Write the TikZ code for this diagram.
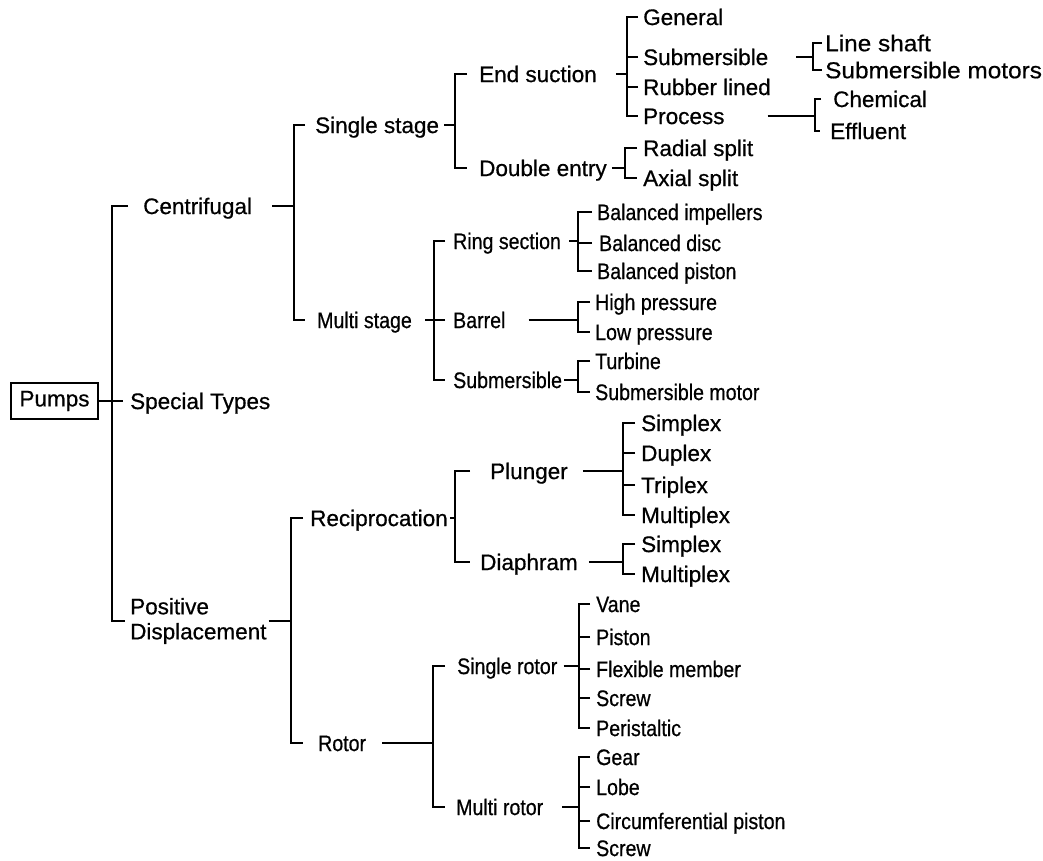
\documentclass[tikz,border=0pt]{standalone}
\usepackage{fontspec}
\setmainfont{Liberation Sans}[FakeBold=0.6]
\newfontfamily\regFont{Liberation Sans}[FakeBold=0.6]
\newfontfamily\narrowfont{Liberation Sans}[FakeStretch=0.87,FakeBold=0.6]
\newfontfamily\wideFont{Liberation Sans}[FakeStretch=1.06,FakeBold=0.6]
\begin{document}
\begin{tikzpicture}[x=1pt,y=-1pt,
  big/.style={anchor=west, inner sep=0pt, font=\regFont\fontsize{22.5}{25}\selectfont, text height=16.1pt, text depth=0pt},
  sml/.style={anchor=west, inner sep=0pt, font=\narrowfont\fontsize{22.5}{25}\selectfont, text height=16.1pt, text depth=0pt},
  lrg/.style={anchor=west, inner sep=0pt, font=\wideFont\fontsize{23}{26}\selectfont, text height=16.5pt, text depth=0pt},
  conn/.style={line width=2.9pt},
  rootbox/.style={draw, line width=2.4pt, minimum width=87pt, minimum height=36pt, inner sep=0pt, font=\regFont\fontsize{22.5}{25}\selectfont}
]
\useasboundingbox (0,0) rectangle (1043,861);

% ---- nodes
\node[rootbox] (pumps) at (54.5,401) {Pumps};
\node[big] (cen) at (143,206) {Centrifugal};
\node[big] (spt) at (130,401) {Special Types};
\node[anchor=west, inner sep=0pt, align=left, font=\regFont\fontsize{22.5}{25}\selectfont] (pd) at (130,621) {Positive\\Displacement};

\node[big] (ss) at (315,125) {Single stage};
\node[sml] (ms) at (317,320) {Multi stage};

\node[big] (es) at (479,74) {End suction};
\node[big] (de) at (479,168) {Double entry};

\node[big] (gen) at (643,17) {General};
\node[big] (subm) at (643,57) {Submersible};
\node[big] (rub) at (643,87) {Rubber lined};
\node[big] (proc) at (643,116) {Process};

\node[lrg] (ls) at (825,43) {Line shaft};
\node[lrg] (sm) at (825,70) {Submersible motors};
\node[big] (chem) at (833,99) {Chemical};
\node[big] (eff) at (830,131) {Effluent};

\node[big] (rad) at (643,148) {Radial split};
\node[big] (ax) at (643,178) {Axial split};

\node[sml] (rs) at (453,241) {Ring section};
\node[sml] (bar) at (453,320) {Barrel};
\node[sml] (sub2) at (453,380) {Submersible};

\node[sml] (bi) at (597,212) {Balanced impellers};
\node[sml] (bd) at (599,243) {Balanced disc};
\node[sml] (bp) at (597,271) {Balanced piston};
\node[sml] (hp) at (595,302) {High pressure};
\node[sml] (lp) at (595,332) {Low pressure};
\node[sml] (tur) at (595,361) {Turbine};
\node[sml] (smo) at (595,392) {Submersible motor};

\node[big] (recip) at (310,518) {Reciprocation};
\node[sml] (rot) at (318,743) {Rotor};

\node[big] (plu) at (490,471) {Plunger};
\node[big] (dia) at (480,562) {Diaphram};

\node[big] (psx) at (641,423) {Simplex};
\node[big] (pdx) at (641,453) {Duplex};
\node[big] (ptx) at (641,485) {Triplex};
\node[big] (pmx) at (641,515) {Multiplex};
\node[big] (dsx) at (641,544) {Simplex};
\node[big] (dmx) at (641,574) {Multiplex};

\node[sml] (sr) at (457,666) {Single rotor};
\node[sml] (mr) at (456,807) {Multi rotor};

\node[sml] (van) at (596,604) {Vane};
\node[sml] (pis) at (596,637) {Piston};
\node[sml] (flex) at (596,669) {Flexible member};
\node[sml] (scr) at (596,698) {Screw};
\node[sml] (per) at (596,728) {Peristaltic};
\node[sml] (gear) at (596,757) {Gear};
\node[sml] (lobe) at (596,787) {Lobe};
\node[sml] (circ) at (596,821) {Circumferential piston};
\node[sml] (scr2) at (596,848) {Screw};

% ---- spines
\coordinate (s1) at (112,0);
\coordinate (s2) at (294,0);
\coordinate (s3) at (455,0);
\coordinate (s4) at (627,0);
\coordinate (s5) at (813,0);
\coordinate (s6) at (815,0);
\coordinate (s7) at (625,0);
\coordinate (s8) at (434,0);
\coordinate (s9) at (578,0);
\coordinate (s10) at (291,0);
\coordinate (s11) at (455,0);
\coordinate (s12) at (623,0);
\coordinate (s13) at (433,0);
\coordinate (s14) at (579,0);

% level 1
\draw[conn] ([xshift=-15]cen.west) -- (cen.west -| s1) -- (pd.west -| s1) -- ([xshift=-5]pd.west);
\draw[conn] (pumps.east) -- ([xshift=-7]spt.west);

% centrifugal
\draw[conn] ([xshift=-10]ss.west) -- (ss.west -| s2) -- (ms.west -| s2) -- ([xshift=-12]ms.west);
\draw[conn] ([xshift=20]cen.east) -- (cen.east -| s2);

% single stage
\draw[conn] ([xshift=-12]es.west) -- (es.west -| s3) -- (de.west -| s3) -- ([xshift=-12]de.west);
\draw[conn] ([xshift=5]ss.east) -- (ss.east -| s3);

% end suction
\draw[conn] ([xshift=-5]gen.west) -- (gen.west -| s4) -- (proc.west -| s4) -- ([xshift=-5]proc.west);
\draw[conn] ([xshift=-5]subm.west) -- (subm.west -| s4);
\draw[conn] ([xshift=-5]rub.west) -- (rub.west -| s4);
\draw[conn] ([xshift=19]es.east) -- (es.east -| s4);

% submersible
\draw[conn] ([xshift=-3]ls.west) -- (ls.west -| s5) -- (sm.west -| s5) -- ([xshift=-3]sm.west);
\draw[conn] ([xshift=28]subm.east) -- (subm.east -| s5);

% process
\draw[conn] ([xshift=-12]chem.west) -- (chem.west -| s6) -- (eff.west -| s6) -- ([xshift=-10]eff.west);
\draw[conn] ([xshift=43]proc.east) -- (proc.east -| s6);

% double entry
\draw[conn] ([xshift=-6]rad.west) -- (rad.west -| s7) -- (ax.west -| s7) -- ([xshift=-6]ax.west);
\draw[conn] ([xshift=5]de.east) -- (de.east -| s7);

% multi stage
\draw[conn] ([xshift=-8]rs.west) -- (rs.west -| s8) -- (sub2.west -| s8) -- ([xshift=-8]sub2.west);
\draw[conn] ([xshift=-8]bar.west) -- (bar.west -| s8);
\draw[conn] ([xshift=13]ms.east) -- (ms.east -| s8);

% ring section
\draw[conn] ([xshift=-5]bi.west) -- (bi.west -| s9) -- (bp.west -| s9) -- ([xshift=-5]bp.west);
\draw[conn] ([xshift=-7]bd.west) -- (bd.west -| s9);
\draw[conn] ([xshift=8]rs.east) -- (rs.east -| s9);

% barrel
\draw[conn] ([xshift=-5]hp.west) -- (hp.west -| s9) -- (lp.west -| s9) -- ([xshift=-5]lp.west);
\draw[conn] ([xshift=23]bar.east) -- (bar.east -| s9);

% submersible (multi stage)
\draw[conn] ([xshift=-5]tur.west) -- (tur.west -| s9) -- (smo.west -| s9) -- ([xshift=-5]smo.west);
\draw[conn] ([xshift=2]sub2.east) -- (sub2.east -| s9);

% positive displacement
\draw[conn] ([xshift=-7]recip.west) -- (recip.west -| s10) -- (rot.west -| s10) -- ([xshift=-15]rot.west);
\draw[conn] ([xshift=2]pd.east) -- (pd.east -| s10);

% reciprocation
\draw[conn] ([xshift=-20]plu.west) -- (plu.west -| s11) -- (dia.west -| s11) -- ([xshift=-10]dia.west);
\draw[conn] ([xshift=2]recip.east) -- (recip.east -| s11);

% plunger
\draw[conn] ([xshift=-6]psx.west) -- (psx.west -| s12) -- (pmx.west -| s12) -- ([xshift=-6]pmx.west);
\draw[conn] ([xshift=-6]pdx.west) -- (pdx.west -| s12);
\draw[conn] ([xshift=-6]ptx.west) -- (ptx.west -| s12);
\draw[conn] ([xshift=15]plu.east) -- (plu.east -| s12);

% diaphram
\draw[conn] ([xshift=-6]dsx.west) -- (dsx.west -| s12) -- (dmx.west -| s12) -- ([xshift=-6]dmx.west);
\draw[conn] ([xshift=11]dia.east) -- (dia.east -| s12);

% rotor
\draw[conn] ([xshift=-12]sr.west) -- (sr.west -| s13) -- (mr.west -| s13) -- ([xshift=-11]mr.west);
\draw[conn] ([xshift=16]rot.east) -- (rot.east -| s13);

% single rotor
\draw[conn] ([xshift=-6]van.west) -- (van.west -| s14) -- (per.west -| s14) -- ([xshift=-6]per.west);
\draw[conn] ([xshift=-6]pis.west) -- (pis.west -| s14);
\draw[conn] ([xshift=-6]flex.west) -- (flex.west -| s14);
\draw[conn] ([xshift=-6]scr.west) -- (scr.west -| s14);
\draw[conn] ([xshift=6]sr.east) -- (sr.east -| s14);

% multi rotor
\draw[conn] ([xshift=-6]gear.west) -- (gear.west -| s14) -- (scr2.west -| s14) -- ([xshift=-6]scr2.west);
\draw[conn] ([xshift=-6]lobe.west) -- (lobe.west -| s14);
\draw[conn] ([xshift=-6]circ.west) -- (circ.west -| s14);
\draw[conn] ([xshift=19]mr.east) -- (mr.east -| s14);
\end{tikzpicture}
\end{document}
